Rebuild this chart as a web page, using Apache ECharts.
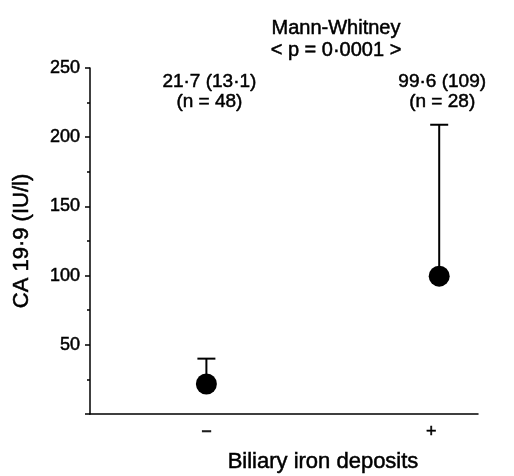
<!DOCTYPE html>
<html>
<head>
<meta charset="utf-8">
<script src="https://cdn.jsdelivr.net/npm/echarts@6/dist/echarts.min.js"></script>
<style>
html,body{margin:0;padding:0;background:#fff;}
#c{width:514px;height:476px;}
</style>
</head>
<body>
<div id="c"></div>
<script>
// Data
const categories = ['\u2212', '+'];
const xPositions = [3, 9];
const means = [21.7, 99.6];
const errorTops = [40, 209];
const summaryLines = ['21\u00b77 (13\u00b71)', '99\u00b76 (109)'];
const countLines = ['(n = 48)', '(n = 28)'];
const yTicks = [50, 100, 150, 200, 250];

const FONT = '"Liberation Sans", Arial, Helvetica, sans-serif';
const INK = {textBorderColor: '#000', textBorderWidth: 0.5};
const chart = echarts.init(document.getElementById('c'));

const pointData = xPositions.map((x, i) => [x, means[i]]);
const errData = xPositions.map((x, i) => [x, means[i], errorTops[i]]);

const option = {
  animation: false,
  backgroundColor: '#fff',
  grid: {left: 90, top: 68, right: 36, bottom: 62, containLabel: false, outerBoundsMode: 'none'},
  xAxis: {
    type: 'value', min: 0, max: 10, interval: 1,
    axisLine: {show: true, lineStyle: {color: '#000', width: 1.5}},
    axisTick: {show: false},
    splitLine: {show: false},
    axisLabel: Object.assign({
      color: '#000', fontSize: 18, fontFamily: FONT, margin: 9,
      formatter: v => {
        const i = xPositions.indexOf(v);
        if (i < 0) return '';
        return i === 1 ? '{p|' + categories[i] + '}' : categories[i];
      },
      rich: {p: {fontSize: 18, fontFamily: FONT, color: '#000', padding: [0, 16, 0, 0]}}
    }, INK),
    name: 'Biliary iron deposits',
    nameLocation: 'middle', nameGap: 37,
    nameTextStyle: Object.assign({color: '#000', fontSize: 22, fontFamily: FONT, padding: [0, 0, 0, 78]}, INK)
  },
  yAxis: {
    type: 'value', min: 0, max: 250, interval: 50,
    axisLine: {show: true, lineStyle: {color: '#000', width: 1.5}},
    axisTick: {show: true, inside: false, length: 5, lineStyle: {color: '#000', width: 1.5}},
    minorTick: {show: true, splitNumber: 2, length: 3, lineStyle: {color: '#000', width: 1.5}},
    splitLine: {show: false},
    minorSplitLine: {show: false},
    axisLabel: Object.assign({
      color: '#000', fontSize: 18, fontFamily: FONT, margin: 10,
      formatter: v => (yTicks.indexOf(v) >= 0 ? String(v) : '')
    }, INK),
    name: 'CA 19\u00b79 (IU/l)',
    nameLocation: 'middle', nameGap: 57, nameRotate: 90,
    nameTextStyle: Object.assign({color: '#000', fontSize: 22, fontFamily: FONT}, INK)
  },
  series: [
    {
      type: 'custom',
      data: errData,
      z: 1,
      renderItem: (params, api) => {
        const x = api.value(0);
        const p0 = api.coord([x, api.value(1)]);
        const p1 = api.coord([x, api.value(2)]);
        const cap = 9;
        return {
          type: 'group',
          children: [
            {type: 'line', shape: {x1: p0[0], y1: p0[1], x2: p1[0], y2: p1[1]}, style: {stroke: '#000', lineWidth: 2}},
            {type: 'line', shape: {x1: p1[0] - cap, y1: p1[1], x2: p1[0] + cap, y2: p1[1]}, style: {stroke: '#000', lineWidth: 2}}
          ]
        };
      }
    },
    {
      type: 'scatter',
      data: pointData,
      symbol: 'circle',
      symbolSize: 21,
      z: 2,
      itemStyle: {color: '#000', opacity: 1}
    }
  ]
};
chart.setOption(option);

// Annotations placed above each group, centered on its x position
function txt(x, y, text, size) {
  return {type: 'text', x: x, y: y, style: {text: text, textAlign: 'center', textVerticalAlign: 'middle', fill: '#000', font: size + 'px ' + FONT, stroke: '#000', lineWidth: 0.5}};
}
const graphics = [
  txt(336, 28, 'Mann-Whitney', 20),
  txt(336, 50, '< p = 0\u00b70001 >', 20)
];
xPositions.forEach((x, i) => {
  const px = chart.convertToPixel({gridIndex: 0}, [x, 0])[0];
  graphics.push(txt(px + 3, 82, summaryLines[i], 19));
  graphics.push(txt(px + 3, 102, countLines[i], 19));
});
chart.setOption({graphic: graphics});
</script>
</body>
</html>
